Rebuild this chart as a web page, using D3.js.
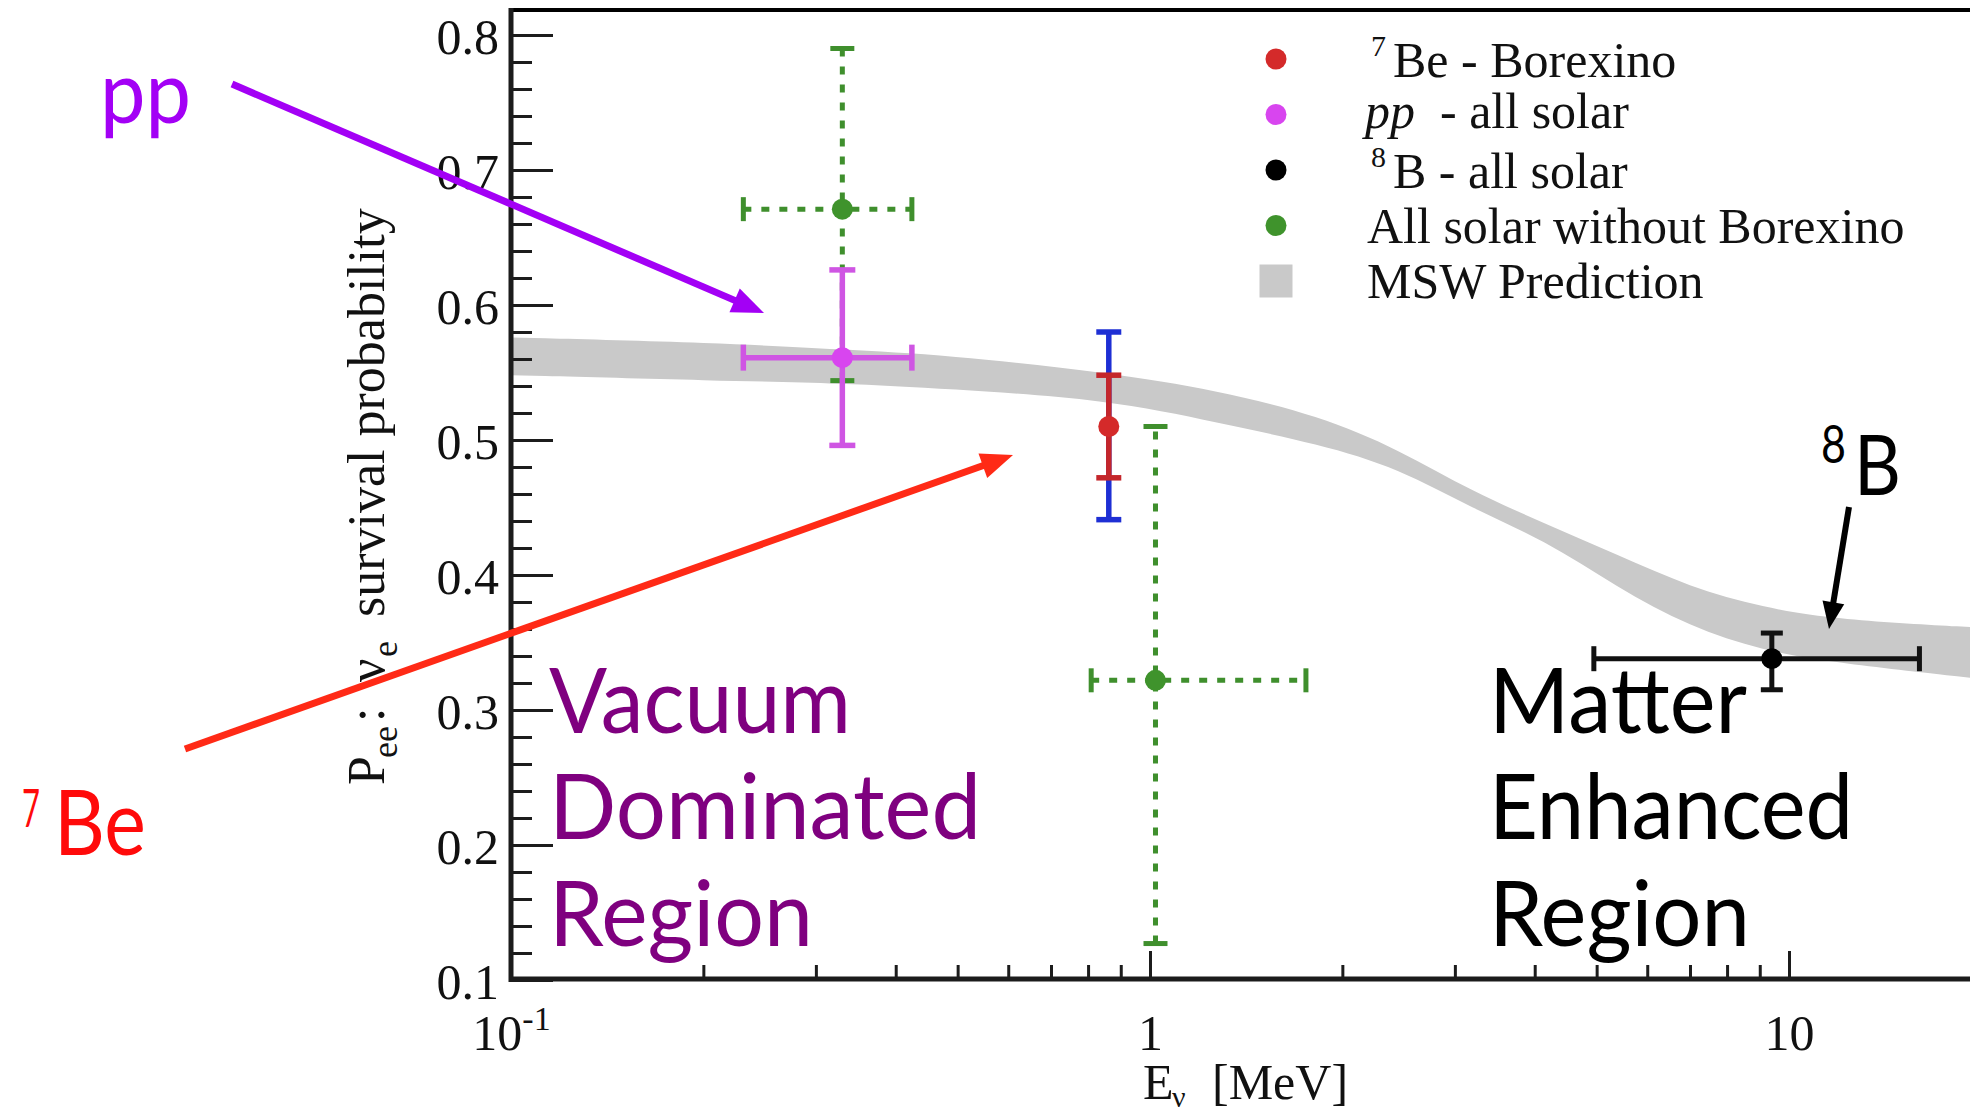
<!DOCTYPE html>
<html>
<head>
<meta charset="utf-8">
<script src="https://cdn.jsdelivr.net/npm/d3@7"></script>
<style>
  html, body { margin: 0; padding: 0; background: #ffffff; }
  svg { display: block; }
</style>
</head>
<body>
<svg id="chart" width="1970" height="1110"></svg>
<script>
// ---------------- data ----------------
// MSW prediction band (energy in MeV, lower / upper survival probability)
const mswEnergy = [0.1, 0.21, 0.33, 0.48, 0.86, 1.27, 1.84, 2.45, 3.2, 4.14, 5.38, 7.0, 9.1, 11.8, 20];
const mswLower  = [0.548, 0.544, 0.542, 0.538, 0.530, 0.513, 0.497, 0.479, 0.449, 0.426, 0.391, 0.3615, 0.344, 0.335, 0.323];
const mswUpper  = [0.576, 0.572, 0.567, 0.563, 0.550, 0.537, 0.518, 0.493, 0.4615, 0.4385, 0.415, 0.391, 0.376, 0.367, 0.361];

// 7Be - Borexino (stat. and total errors)
const beEnergy = [0.862];
const beP      = [0.510];
const beStatLo = [0.472];
const beStatHi = [0.548];
const beTotLo  = [0.441];
const beTotHi  = [0.580];

// pp - all solar
const ppEnergy = [0.33];
const ppELo    = [0.231];
const ppEHi    = [0.424];
const ppP      = [0.561];
const ppPLo    = [0.496];
const ppPHi    = [0.626];

// 8B - all solar
const b8Energy = [9.4];
const b8ELo    = [4.95];
const b8EHi    = [16.0];
const b8P      = [0.338];
const b8PLo    = [0.315];
const b8PHi    = [0.357];

// All solar without Borexino
const nbEnergy = [0.33, 1.02];
const nbELo    = [0.231, 0.809];
const nbEHi    = [0.424, 1.754];
const nbP      = [0.671, 0.322];
const nbPLo    = [0.544, 0.127];
const nbPHi    = [0.790, 0.510];

// axis ticks
const yMajorTicks = [0.1, 0.2, 0.3, 0.4, 0.5, 0.6, 0.7, 0.8];
const xMajorTicks = [0.1, 1, 10];
const xMinorTicks = [0.2, 0.3, 0.4, 0.5, 0.6, 0.7, 0.8, 0.9, 2, 3, 4, 5, 6, 7, 8, 9];

// legend entries
const legendLabels = [
  {sup: "7", text: "Be - Borexino"},
  {ital: "pp", text: "  - all solar"},
  {sup: "8", text: "B - all solar"},
  {text: "All solar without Borexino"},
  {text: "MSW Prediction"}
];

// ---------------- styles ----------------
const SERIF = "'Liberation Serif', 'Times New Roman', 'DejaVu Serif', serif";
const SANS  = "Lato, 'Open Sans', 'Noto Sans', sans-serif";
const C = {
  band: "#c9c9c9",
  red: "#c4262b", redDot: "#d42a2a",
  blue: "#1e2fd4",
  magenta: "#cf55e3", magentaDot: "#d845ef",
  green: "#3f8f2d", greenDot: "#3f932c",
  black: "#111111",
  axis: "#1c1c1c"
};

// ---------------- scales ----------------
const svg = d3.select("#chart");
const x = d3.scaleLog().domain([0.1, 20]).range([511, 511 + Math.log10(200) * 639]);
const y = d3.scaleLinear().domain([0.1, 0.8]).range([980, 35]);
const yFrameTop = y(0.8185);
const xLeft = x(0.1), yBottom = y(0.1);

// ---------------- MSW band ----------------
const band = mswEnergy.map((e, i) => ({E: e, lo: mswLower[i], hi: mswUpper[i]}));
svg.append("path")
  .datum(band)
  .attr("fill", C.band)
  .attr("d", d3.area()
    .x(d => x(d.E)).y0(d => y(d.lo)).y1(d => y(d.hi))
    .curve(d3.curveBasis));

// ---------------- axes ----------------
const yMinor = d3.range(0, 36).filter(i => i % 5 !== 0).map(i => 0.1 + i * 0.02);

const gyMinor = svg.append("g").attr("transform", `translate(${xLeft},0)`)
  .call(d3.axisLeft(y).tickValues(yMinor).tickSize(-21).tickFormat(""));
const gyMajor = svg.append("g").attr("transform", `translate(${xLeft},0)`)
  .call(d3.axisLeft(y).tickValues(yMajorTicks).tickSize(-42).tickPadding(12).tickFormat(d3.format(".1f")));

const gxMinor = svg.append("g").attr("transform", `translate(0,${yBottom})`)
  .call(d3.axisBottom(x).tickValues(xMinorTicks).tickSize(-15).tickFormat(""));
const gxMajor = svg.append("g").attr("transform", `translate(0,${yBottom})`)
  .call(d3.axisBottom(x).tickValues(xMajorTicks).tickSize(-29).tickPadding(34.5).tickFormat(d => d === 0.1 ? "10" : String(d)));

[gyMinor, gyMajor, gxMinor, gxMajor].forEach(g => {
  g.select(".domain").remove();
  g.selectAll(".tick line").attr("stroke", C.axis).attr("stroke-width", 3);
  g.selectAll(".tick text").attr("fill", "#111").attr("font-family", SERIF).attr("font-size", 50);
});
gyMajor.selectAll(".tick text").attr("dy", "0.36em");
// 10^-1 label
gxMajor.selectAll(".tick text").filter(d => d === 0.1)
  .append("tspan").attr("font-size", 34).attr("dy", -20).text("-1");

// frame lines
svg.append("line").attr("x1", xLeft).attr("x2", 1970).attr("y1", yFrameTop).attr("y2", yFrameTop)
  .attr("stroke", "#000").attr("stroke-width", 4);
svg.append("line").attr("x1", xLeft).attr("x2", xLeft).attr("y1", yFrameTop - 2).attr("y2", yBottom + 2)
  .attr("stroke", C.axis).attr("stroke-width", 5);
svg.append("line").attr("x1", xLeft - 2).attr("x2", 1970).attr("y1", yBottom - 1).attr("y2", yBottom - 1)
  .attr("stroke", C.axis).attr("stroke-width", 5);

// axis titles
const yTitle = svg.append("text")
  .attr("transform", "translate(384,785) rotate(-90)")
  .attr("font-family", SERIF).attr("font-size", 52).attr("fill", "#111");
yTitle.append("tspan").attr("x", 0).attr("y", 0).text("P");
yTitle.append("tspan").attr("x", 27).attr("y", 13).attr("font-size", 36).text("ee");
yTitle.append("tspan").attr("x", 63).attr("y", 0).text(":");
yTitle.append("tspan").attr("x", 103).attr("y", 0).text("ν");
yTitle.append("tspan").attr("x", 128).attr("y", 13).attr("font-size", 36).text("e");
yTitle.append("tspan").attr("x", 168).attr("y", 0).text("survival probability");

const xTitle = svg.append("text")
  .attr("font-family", SERIF).attr("font-size", 50).attr("fill", "#111");
xTitle.append("tspan").attr("x", 1143).attr("y", 1099).text("E");
xTitle.append("tspan").attr("x", 1172).attr("y", 1107).attr("font-size", 30).text("ν");
xTitle.append("tspan").attr("x", 1212).attr("y", 1099).text("[MeV]");

// ---------------- error bars ----------------
const plot = svg.append("g");

function hBar(g, e, lo, hi, p, color, width, cap, dash) {
  const cy = y(p);
  const l = g.append("line").attr("x1", x(lo)).attr("x2", x(hi)).attr("y1", cy).attr("y2", cy)
    .attr("stroke", color).attr("stroke-width", width);
  if (dash) l.attr("stroke-dasharray", dash);
  [lo, hi].forEach(v => g.append("line")
    .attr("x1", x(v)).attr("x2", x(v)).attr("y1", cy - cap / 2).attr("y2", cy + cap / 2)
    .attr("stroke", color).attr("stroke-width", width));
}
function vBar(g, e, lo, hi, color, width, cap, dash) {
  const cx = x(e);
  const l = g.append("line").attr("x1", cx).attr("x2", cx).attr("y1", y(lo)).attr("y2", y(hi))
    .attr("stroke", color).attr("stroke-width", width);
  if (dash) l.attr("stroke-dasharray", dash);
  [lo, hi].forEach(v => g.append("line")
    .attr("x1", cx - cap / 2).attr("x2", cx + cap / 2).attr("y1", y(v)).attr("y2", y(v))
    .attr("stroke", color).attr("stroke-width", width));
}

// all solar without Borexino (dashed)
nbEnergy.forEach((e, i) => {
  vBar(plot, e, nbPLo[i], nbPHi[i], C.green, 5, 24, "8,10");
  hBar(plot, e, nbELo[i], nbEHi[i], nbP[i], C.green, 5, 24, "8,10");
});
// pp
ppEnergy.forEach((e, i) => {
  vBar(plot, e, ppPLo[i], ppPHi[i], C.magenta, 5.5, 26);
  hBar(plot, e, ppELo[i], ppEHi[i], ppP[i], C.magenta, 5.5, 26);
});
// 7Be: total (blue) under statistical (red)
beEnergy.forEach((e, i) => {
  vBar(plot, e, beTotLo[i], beTotHi[i], C.blue, 5.5, 25);
  vBar(plot, e, beStatLo[i], beStatHi[i], C.red, 5.5, 25);
});
// 8B
b8Energy.forEach((e, i) => {
  hBar(plot, e, b8ELo[i], b8EHi[i], b8P[i], C.black, 5, 25);
  vBar(plot, e, b8PLo[i], b8PHi[i], C.black, 5, 22);
});

// markers
const markers = [
  ...nbEnergy.map((e, i) => ({E: e, P: nbP[i], c: C.greenDot})),
  ...ppEnergy.map((e, i) => ({E: e, P: ppP[i], c: C.magentaDot})),
  ...beEnergy.map((e, i) => ({E: e, P: beP[i], c: C.redDot})),
  ...b8Energy.map((e, i) => ({E: e, P: b8P[i], c: "#000"}))
];
plot.selectAll("circle.marker").data(markers).join("circle")
  .attr("class", "marker")
  .attr("cx", d => x(d.E)).attr("cy", d => y(d.P)).attr("r", 10.5)
  .attr("fill", d => d.c);

// ---------------- legend ----------------
const legendColors = [C.redDot, C.magentaDot, "#000", C.greenDot, C.band];
const legend = svg.append("g").attr("font-family", SERIF).attr("font-size", 50).attr("fill", "#111");
legendLabels.forEach((item, i) => {
  const ry = 59 + i * 55.5;
  if (i === legendLabels.length - 1) {
    legend.append("rect").attr("x", 1276 - 16.5).attr("y", ry - 16.5).attr("width", 33).attr("height", 33)
      .attr("fill", legendColors[i]);
  } else {
    legend.append("circle").attr("cx", 1276).attr("cy", ry).attr("r", 10.5).attr("fill", legendColors[i]);
  }
  if (item.sup) {
    legend.append("text").attr("x", 1371).attr("y", ry - 3).attr("font-size", 30).text(item.sup);
    legend.append("text").attr("x", 1393).attr("y", ry + 18).text(item.text);
  } else if (item.ital) {
    const t = legend.append("text").attr("x", 1365).attr("y", ry + 13).attr("xml:space", "preserve");
    t.append("tspan").attr("font-style", "italic").text(item.ital);
    t.append("tspan").text(item.text);
  } else {
    legend.append("text").attr("x", 1367).attr("y", ry + 17).text(item.text);
  }
});

// ---------------- annotations ----------------
const notes = svg.append("g");

function arrow(x1, y1, x2, y2, color, width, headLen, headW) {
  const dx = x2 - x1, dy = y2 - y1, len = Math.hypot(dx, dy);
  const ux = dx / len, uy = dy / len;
  const bx = x2 - ux * headLen, by = y2 - uy * headLen;
  notes.append("line").attr("x1", x1).attr("y1", y1)
    .attr("x2", bx + ux * 2).attr("y2", by + uy * 2)
    .attr("stroke", color).attr("stroke-width", width);
  notes.append("polygon")
    .attr("points", [[x2, y2], [bx - uy * headW / 2, by + ux * headW / 2], [bx + uy * headW / 2, by - ux * headW / 2]]
      .map(p => p.join(",")).join(" "))
    .attr("fill", color);
}

// pp label and arrow
notes.append("text").attr("x", 100).attr("y", 123).attr("font-family", SANS).attr("font-size", 88)
  .attr("fill", "#a300f5").attr("textLength", 91).attr("lengthAdjust", "spacingAndGlyphs").text("pp");
arrow(232, 84, 764, 313, "#a300f5", 7, 32, 26);

// 7Be label and arrow
const beNote = notes.append("g").attr("font-family", SANS).attr("fill", "#ff0a0a");
beNote.append("text").attr("x", 22).attr("y", 827).attr("font-size", 53)
  .attr("textLength", 18).attr("lengthAdjust", "spacingAndGlyphs").text("7");
beNote.append("text").attr("x", 54).attr("y", 855).attr("font-size", 91)
  .attr("textLength", 92).attr("lengthAdjust", "spacingAndGlyphs").text("Be");
arrow(185, 749, 1013, 455, "#ff2a16", 7, 32, 26);

// 8B label and arrow
notes.append("text").attr("x", 1821).attr("y", 463).attr("font-family", SANS).attr("font-size", 52)
  .attr("fill", "#000").attr("textLength", 25).attr("lengthAdjust", "spacingAndGlyphs").text("8");
notes.append("text").attr("x", 1854).attr("y", 495).attr("font-family", SANS).attr("font-size", 84)
  .attr("fill", "#000").attr("textLength", 47).attr("lengthAdjust", "spacingAndGlyphs").text("B");
arrow(1849, 507, 1829, 629, "#000", 6, 27, 22);

// region labels
const regionLines = [
  {x: 549, lines: ["Vacuum", "Dominated", "Region"], widths: [302, 432, 264], color: "#7f007f"},
  {x: 1489, lines: ["Matter", "Enhanced", "Region"], widths: [258, 364, 261], color: "#000"}
];
const baselines = [733, 839, 946];
regionLines.forEach(r => {
  r.lines.forEach((s, i) => {
    notes.append("text").attr("x", r.x).attr("y", baselines[i])
      .attr("font-family", SANS).attr("font-size", 91).attr("fill", r.color)
      .attr("textLength", r.widths[i]).attr("lengthAdjust", "spacingAndGlyphs").text(s);
  });
});
</script>
</body>
</html>
